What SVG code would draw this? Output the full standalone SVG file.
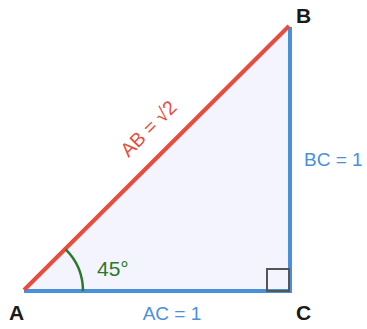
<svg xmlns="http://www.w3.org/2000/svg" width="367" height="329" viewBox="0 0 367 329">
<style>
text{font-family:"Liberation Sans",Arial,Helvetica,sans-serif}
.v{font-weight:bold;font-size:21px;fill:#1a1a1a}
.lb{font-size:19px;fill:#4a90d9}
.lr{font-size:19.5px;fill:#e74c3c}
.lg{font-size:21px;fill:#2a7a2a}
</style>
<rect width="367" height="329" fill="#ffffff"/>
<g id="triangle">
<polygon points="24,291 290,291 290,27" fill="#f4f4fe"/>
</g>
<g id="connectors" stroke-linecap="butt" fill="none">
<line id="AC" x1="24" y1="291" x2="291" y2="291" stroke="#4a90d9" stroke-width="4"/>
<line id="BC" x1="290" y1="27" x2="290" y2="293" stroke="#4a90d9" stroke-width="4"/>
<line id="AB" x1="24" y1="290" x2="289" y2="26" stroke="#e74c3c" stroke-width="4"/>
<path id="angle" d="M83,291 A59,59 0 0 0 65.7,249.3" stroke="#2a7a2a" stroke-width="2.5"/>
<rect id="right-angle" x="267" y="269" width="22" height="22" stroke="#555555" stroke-width="2"/>
</g>
<g id="A"><text class="v" x="9" y="320">A</text></g>
<g id="B"><text class="v" x="296" y="23">B</text></g>
<g id="C"><text class="v" x="296" y="320">C</text></g>
<g id="labels">
<text class="lb" x="172" y="320" text-anchor="middle">AC = 1</text>
<text class="lb" x="304" y="165.5">BC = 1</text>
<text class="lr" transform="translate(149,129) rotate(-45)" x="0" y="6" text-anchor="middle">AB = √2</text>
<text class="lg" x="97" y="276">45°</text>
</g>
</svg>
